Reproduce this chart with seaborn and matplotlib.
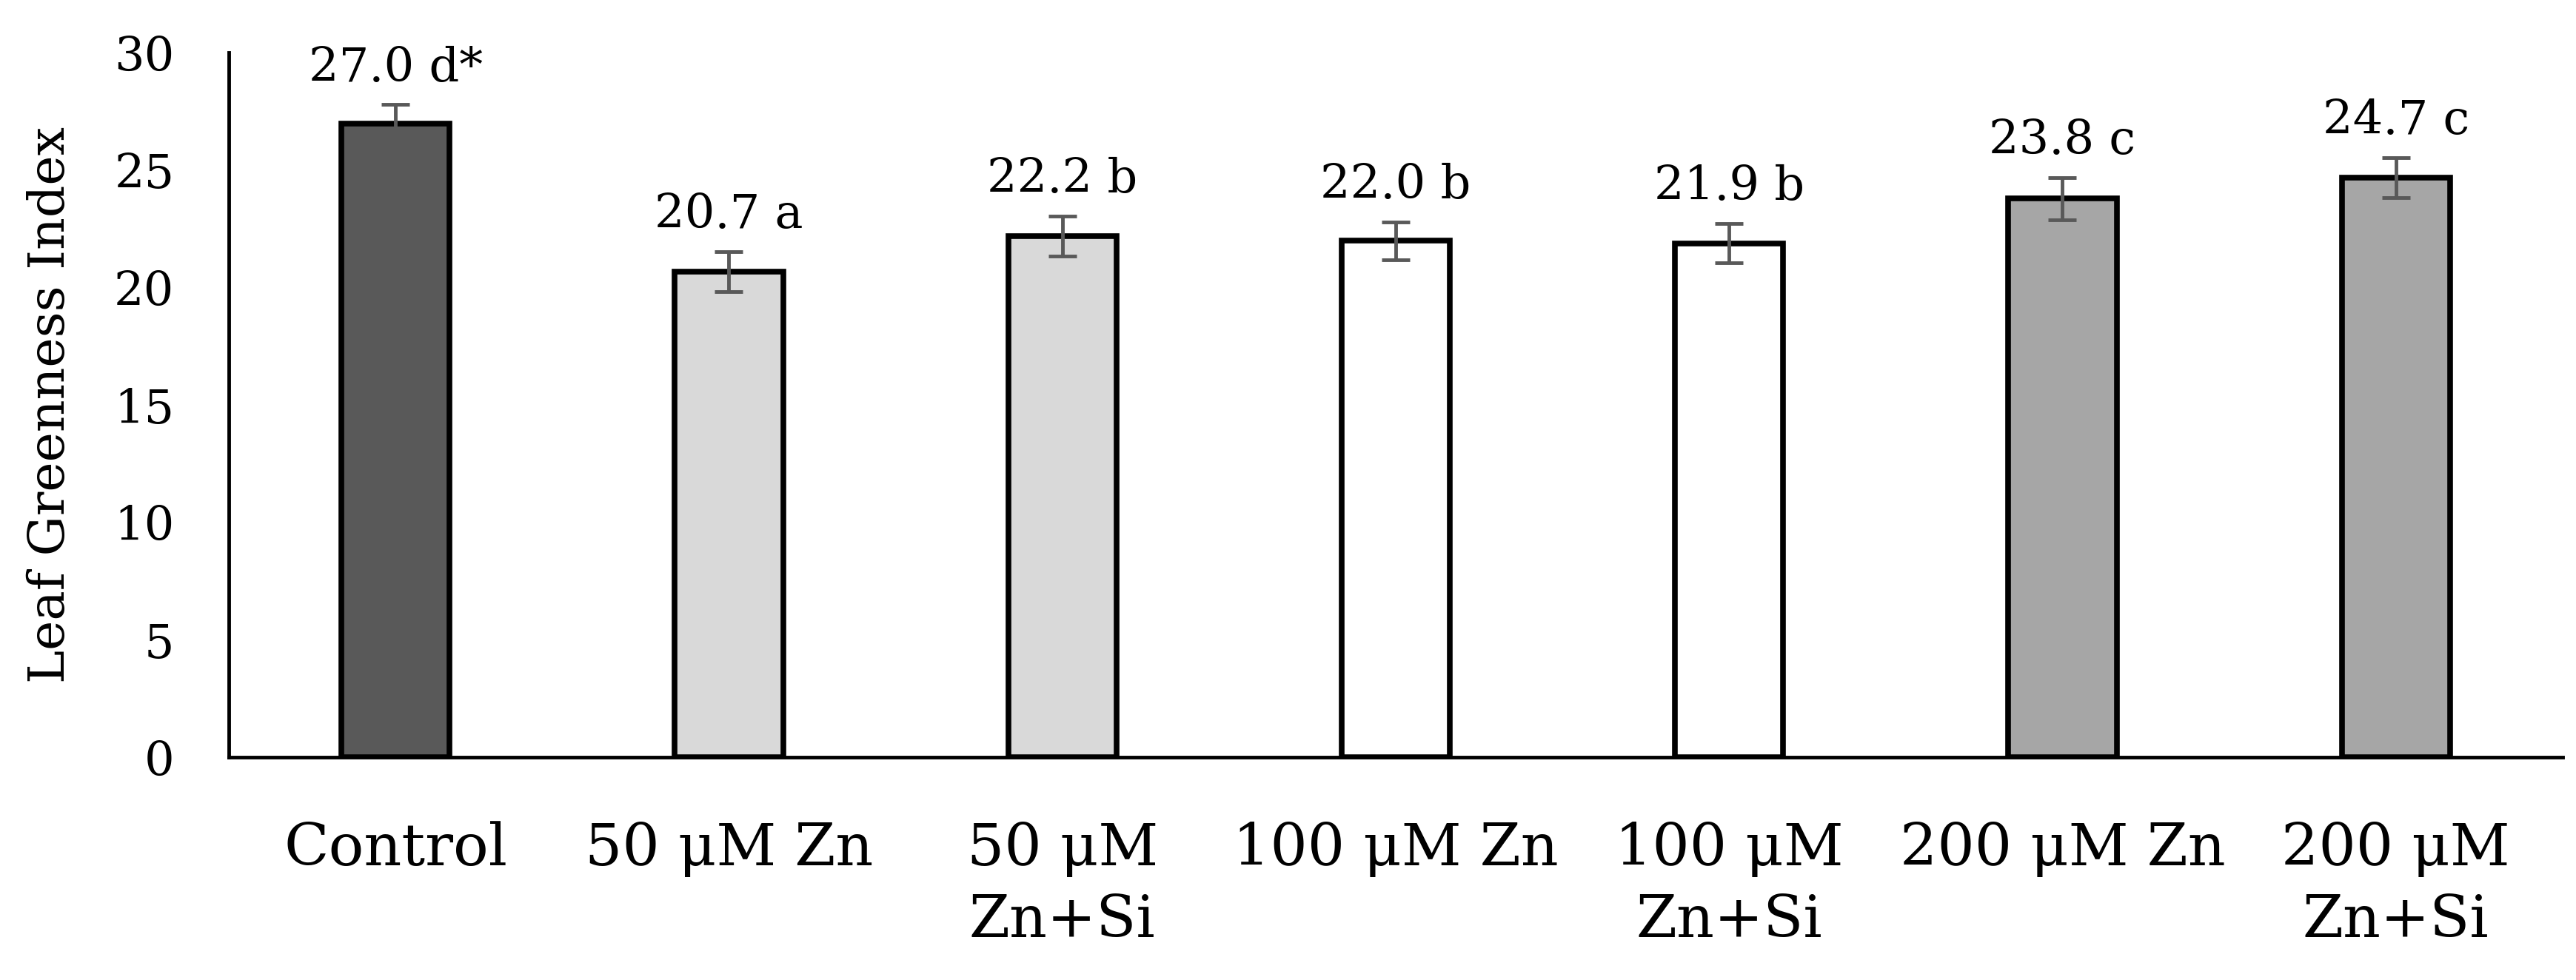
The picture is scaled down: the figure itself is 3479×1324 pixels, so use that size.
import pandas as pd
import matplotlib
matplotlib.use('Agg')
import matplotlib.pyplot as plt
import seaborn as sns

# Data
treatments = ['Control', '50 μM Zn', '50 μM\nZn+Si', '100 μM Zn', '100 μM\nZn+Si',
              '200 μM Zn', '200 μM\nZn+Si']
greenness = [27.0, 20.7, 22.2, 22.0, 21.9, 23.8, 24.7]
errors = [0.8, 0.85, 0.85, 0.8, 0.85, 0.9, 0.85]
letters = ['d*', 'a', 'b', 'b', 'b', 'c', 'c']
bar_colors = ['#595959', '#d9d9d9', '#d9d9d9', '#ffffff', '#ffffff', '#a6a6a6', '#a6a6a6']

df = pd.DataFrame({'Treatment': treatments, 'Index': greenness})

sns.set_style('white')
plt.rcParams['font.family'] = ['DejaVu Serif']
plt.rcParams['text.color'] = 'black'
plt.rcParams['axes.labelcolor'] = 'black'
plt.rcParams['xtick.color'] = 'black'
plt.rcParams['ytick.color'] = 'black'

fig = plt.figure(figsize=(34.8, 13.24), dpi=100)
ax = fig.add_axes([0.0888, 0.227, 0.9057, 0.719])

sns.barplot(data=df, x='Treatment', y='Index', hue='Treatment', palette=bar_colors,
            legend=False, width=0.325, edgecolor='black', linewidth=5.5, saturation=1,
            errorbar=None, ax=ax)

# error bars
ax.errorbar(range(len(treatments)), greenness, yerr=errors, fmt='none',
            ecolor='#595959', elinewidth=3.5, capsize=14, capthick=3.5, zorder=5)

# value + letter labels
for i, (v, e, l) in enumerate(zip(greenness, errors, letters)):
    ax.text(i, v + e + 1.0, f'{v:.1f} {l}', ha='center', va='baseline', fontsize=46)

ax.set_xlim(-0.5, 6.5)
ax.set_ylim(0, 30)
ax.set_yticks(range(0, 31, 5))
ax.set_xlabel('')
ax.set_ylabel('Leaf Greenness Index', fontsize=49, labelpad=38)
ax.tick_params(axis='y', labelsize=46, length=0, pad=53)
ax.tick_params(axis='x', labelsize=57, length=0, pad=62)
for t in ax.get_xticklabels():
    t.set_linespacing(1.35)

sns.despine(ax=ax)
for side in ['left', 'bottom']:
    ax.spines[side].set_linewidth(3.5)
    ax.spines[side].set_color('black')

fig.savefig('out.png', dpi=100)
